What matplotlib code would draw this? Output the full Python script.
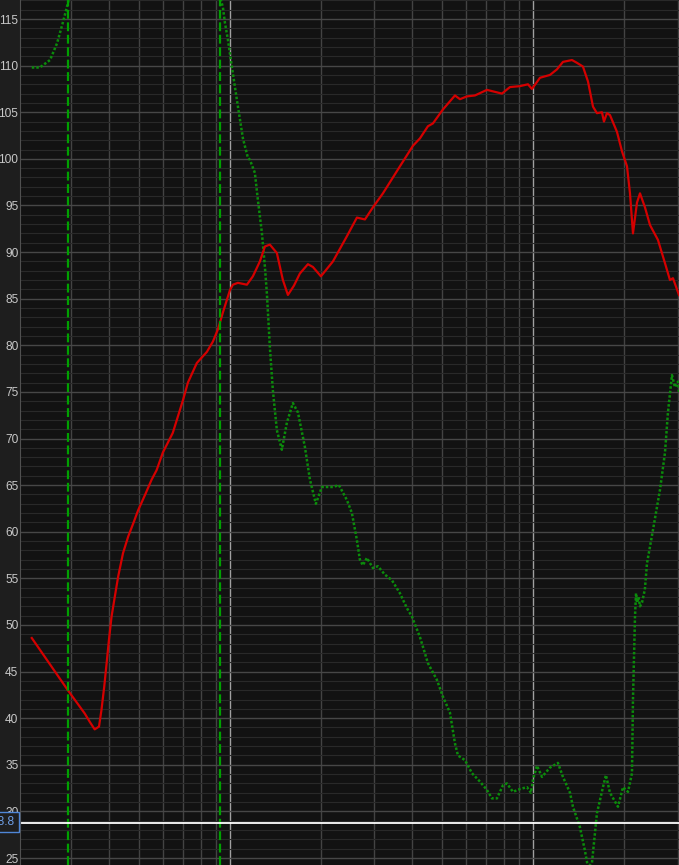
import numpy as np
import matplotlib
matplotlib.use('Agg')
import matplotlib.pyplot as plt
from matplotlib.ticker import LogLocator, NullFormatter, MultipleLocator

# SPL trace (red), frequency in Hz / level in dB
spl_freq = [22.2, 29.2, 33.2, 34.5, 35.8, 37.0, 37.7, 38.5, 39.2, 39.9, 40.7, 41.7,
            42.8, 44.4, 46.2, 48.0, 49.8, 52.4, 55.2, 57.3, 60.1, 64.8, 70.0, 72.7,
            77.8, 84.0, 87.9, 91.3, 94.8, 100.0, 102.3, 106.3,
            113.8, 119.1, 125.6, 130.5, 135.5, 142.9, 149.6, 155.4, 162.7, 170.2, 180.9,
            187.9, 199.7, 218.8, 243.3, 262.5, 279.0, 296.5, 319.9, 364.0, 401.8,
            423.8, 450.3, 467.7, 504.7, 552.9, 574.3, 605.6, 643.5, 705.0, 790.0,
            839.6, 906.0, 962.7, 992.5, 1055, 1138, 1200, 1256, 1345, 1397, 1462,
            1519, 1578, 1626, 1689, 1715, 1754, 1795, 1893, 1967, 2043, 2090, 2138,
            2204, 2255, 2342, 2433, 2585, 2727, 2832, 2897, 3033]
spl_db = [48.6, 43.0, 40.5, 39.6, 38.8, 39.1, 40.9, 43.4, 45.9, 48.4, 50.9, 53.0,
          55.2, 57.7, 59.5, 60.9, 62.3, 63.9, 65.6, 66.6, 68.5, 70.6, 74.1, 76.0,
          78.1, 79.3, 80.4, 81.7, 83.5, 85.9, 86.5, 86.7,
          86.5, 87.4, 89.0, 90.6, 90.8, 89.9, 87.0, 85.4, 86.4, 87.7, 88.7,
          88.4, 87.4, 89.0, 91.7, 93.7, 93.5, 94.8, 96.3, 99.2, 101.4,
          102.2, 103.5, 103.8, 105.3, 106.8, 106.4, 106.7, 106.8, 107.4, 107.0,
          107.7, 107.8, 108.0, 107.5, 108.7, 109.0, 109.6, 110.4, 110.6, 110.3, 109.9,
          108.3, 105.6, 104.9, 105.0, 104.0, 104.9, 104.7, 102.9, 100.8, 99.2, 96.3, 92.0,
          95.3, 96.3, 94.8, 92.9, 91.3, 88.8, 87.0, 87.2, 85.4]

# second trace (green dotted)
grn_freq = [22.2, 23.6, 25.5, 26.9, 28.1, 29.0, 29.6, 30.5, 91.0,
            93.4, 94.8, 96.3, 98.5, 101.5, 105.5, 110.4, 114.7, 116.4, 120.9, 123.7,
            127.5, 130.5, 132.5, 135.5, 138.6, 142.9, 148.4, 154.2, 161.4, 167.7,
            176.8, 183.7, 192.2, 201.2, 218.8, 229.0, 243.3, 252.7, 262.5, 268.5,
            274.7, 283.2, 296.5, 307.9, 324.7, 342.5, 364.0, 383.9, 398.7, 423.8,
            450.3, 482.2, 504.7, 532.2, 552.9, 565.6, 596.5, 629.1, 668.4, 705.0,
            732.3, 760.6, 796.2, 820.7, 859.0, 906.0, 955.5, 984.9, 1000, 1031,
            1071, 1138, 1209, 1256, 1325, 1355, 1429, 1484, 1519, 1566, 1626, 1702,
            1741, 1795, 1908, 1982, 2059, 2122, 2138, 2171, 2188, 2205, 2230, 2255,
            2290, 2340, 2378, 2489, 2625, 2727, 2789, 2875, 2941, 3010, 3033]
grn_db = [109.8, 109.8, 110.6, 112.4, 114.6, 116.3, 117.5, 125.0, 125.0,
          117.0, 116.3, 114.6, 112.8, 109.9, 106.3, 102.2, 100.1, 99.9, 98.5, 95.6,
          92.1, 88.4, 85.5, 79.8, 75.2, 70.9, 68.8, 71.7, 73.8, 72.8,
          69.1, 65.6, 63.0, 64.8, 64.8, 65.0, 63.4, 62.0, 59.1, 57.0,
          56.4, 57.2, 56.1, 56.3, 55.4, 54.8, 53.4, 51.8, 50.9, 48.7,
          45.9, 44.1, 42.3, 40.6, 37.3, 36.0, 35.5, 34.1, 33.2, 32.3,
          31.4, 31.4, 32.8, 33.0, 32.1, 32.4, 32.6, 32.0, 33.4, 34.9,
          33.7, 34.7, 35.2, 33.7, 32.0, 30.5, 28.3, 25.8, 24.0, 24.5, 29.8, 32.6,
          33.9, 32.0, 30.5, 32.6, 32.1, 34.1, 42.0, 50.9, 53.4, 52.4, 53.0, 52.0,
          52.4, 53.8, 56.6, 60.2, 64.5, 68.5, 72.8, 76.8, 75.5, 76.1, 75.0]

markers_hz = [29.2, 92.7]
cursor_db = 28.8
y_ticks = list(range(25, 116, 5))

fig = plt.figure(figsize=(6.79, 8.65), dpi=100, facecolor='#1e1e1e')
ax = fig.add_axes([20 / 679, 0, 1 - 20 / 679, 1])
ax.set_facecolor('#121212')
ax.set_xscale('log')
ax.set_xlim(20.3, 3033)
ax.set_ylim(24.25, 117.04)

# grid
ax.xaxis.set_major_locator(LogLocator(base=10))
ax.xaxis.set_minor_locator(LogLocator(base=10, subs=range(2, 10)))
ax.xaxis.set_minor_formatter(NullFormatter())
ax.set_yticks(y_ticks)
ax.yaxis.set_minor_locator(MultipleLocator(1))
ax.set_axisbelow(True)
ax.xaxis.grid(True, which='major', color='#a0a0a0', lw=1.0)
ax.xaxis.grid(True, which='minor', color='#434343', lw=1.0)
ax.yaxis.grid(True, which='major', color='#474747', lw=1.0)
ax.yaxis.grid(True, which='minor', color='#292929', lw=0.8)

ax.tick_params(axis='x', which='both', length=0, labelbottom=False)
ax.tick_params(axis='y', which='both', length=0, labelsize=8.6,
               labelcolor='#c8c8c8', pad=1.2)
for lbl in ax.get_yticklabels():
    lbl.set_family('Liberation Sans')
for side in ['top', 'right', 'bottom']:
    ax.spines[side].set_visible(False)
ax.spines['left'].set_color('#505050')

# curves
ax.plot(grn_freq, grn_db, color='#0b8c0b', lw=1.8, linestyle=(0, (1, 0.8)),
        solid_capstyle='butt', dash_capstyle='butt')
ax.plot(spl_freq, spl_db, color='#d40000', lw=1.6)

for f in markers_hz:
    ax.axvline(f, color='#00a000', lw=1.6, linestyle=(0, (4, 1.6)))

ax.axhline(cursor_db, color='white', lw=1.3)
fig.text(15 / 679, 1 - 822 / 865, '%.1f' % cursor_db, color='#6f9fe6',
         fontsize=8.6, family='Liberation Sans', ha='right', va='center',
         bbox=dict(boxstyle='square,pad=0.35', fc='#1e1e1e', ec='#4f86d6', lw=1))

fig.savefig('out.png', dpi=100, facecolor=fig.get_facecolor())
